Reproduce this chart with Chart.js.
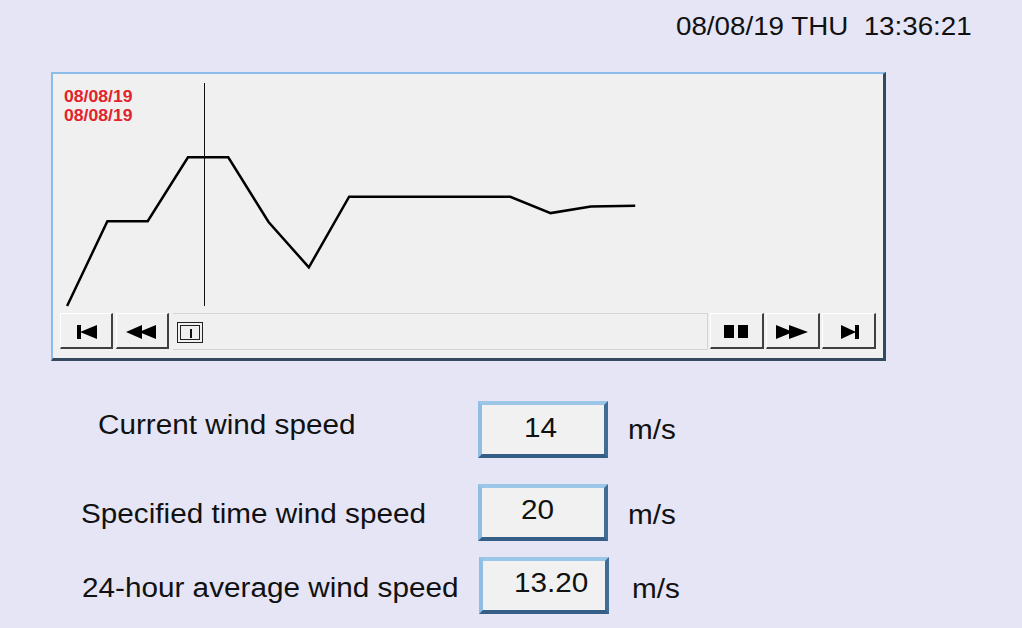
<!DOCTYPE html>
<html>
<head>
<meta charset="utf-8">
<script src="https://cdn.jsdelivr.net/npm/chart.js@4"></script>
<style>
  html,body{margin:0;padding:0;}
  body{width:1022px;height:628px;background:#e5e5f6;position:relative;overflow:hidden;font-family:"Liberation Sans",Arial,sans-serif;color:#111;}
  .t{position:absolute;white-space:nowrap;line-height:1;}
  .t span{display:inline-block;transform:scaleX(1.1);transform-origin:0 0;}
  #panel{position:absolute;left:51px;top:72px;width:830px;height:284px;background:#f0f0f0;
    border-top:2px solid #8cbde8;border-left:2px solid #8cbde8;border-right:3px solid #34495e;border-bottom:3px solid #34495e;}
  #chartWrap{position:absolute;left:53px;top:75px;width:830px;height:238px;}
  .btn{position:absolute;top:313px;height:36px;background:#f0f0f0;border-top:1px solid #fff;border-left:1px solid #fff;
    border-right:2px solid #404040;border-bottom:2px solid #404040;box-sizing:border-box;}
  .btn svg{position:absolute;left:0;top:0;}
  #track{position:absolute;left:173px;top:313px;width:535px;height:37px;background:#f0f0f0;border-top:1px solid #d4d4d4;border-bottom:1px solid #d4d4d4;border-right:1px solid #d4d4d4;box-sizing:border-box;}
  #thumb{position:absolute;left:177px;top:322px;width:26px;height:21px;box-sizing:border-box;border:1px solid #222;background:#f0f0f0;}
  #thumb div{position:absolute;left:2px;top:2px;right:2px;bottom:2px;border:1px solid #222;}
  #thumb div:after{content:"";position:absolute;left:9px;top:3px;width:2px;height:9px;background:#111;}
  .box{position:absolute;width:130px;height:57px;background:#f1f1f1;box-sizing:border-box;
    border-top:4px solid #9cc6e8;border-left:4px solid #8fbde3;border-right:4px solid #3f6d98;border-bottom:4px solid #365f88;}
</style>
</head>
<body>
<div class="t" style="left:676px;top:14px;font-size:25px;"><span style="transform:scaleX(1.11)">08/08/19 THU&nbsp; 13:36:21</span></div>

<div id="panel"></div>
<div class="t" style="left:64px;top:89px;font-size:16px;font-weight:bold;color:#e3232b;"><span>08/08/19</span></div>
<div class="t" style="left:64px;top:108px;font-size:16px;font-weight:bold;color:#e3232b;"><span>08/08/19</span></div>
<div id="chartWrap"><canvas id="c"></canvas></div>

<div class="btn" style="left:60px;width:53px;"><svg width="51" height="33"><rect x="16" y="11" width="4" height="14" fill="#000"/><polygon points="19,18 36,11 36,25" fill="#000"/></svg></div>
<div class="btn" style="left:116px;width:53px;"><svg width="51" height="33"><polygon points="9,18 25,11 25,25" fill="#000"/><polygon points="22,18 39,11 39,25" fill="#000"/></svg></div>
<div id="track"></div>
<div id="thumb"><div></div></div>
<div class="btn" style="left:710px;width:54px;"><svg width="52" height="33"><rect x="13" y="11" width="10" height="13" fill="#000"/><rect x="27" y="11" width="10" height="13" fill="#000"/></svg></div>
<div class="btn" style="left:766px;width:54px;"><svg width="52" height="33"><polygon points="9,11 26,18 9,25" fill="#000"/><polygon points="22,11 41,18 22,25" fill="#000"/></svg></div>
<div class="btn" style="left:822px;width:54px;"><svg width="52" height="33"><polygon points="18,11 33,18 18,25" fill="#000"/><rect x="32" y="11" width="4" height="14" fill="#000"/></svg></div>

<div class="t" style="left:98px;top:412px;font-size:27px;"><span>Current wind speed</span></div>
<div class="t" style="left:81px;top:501px;font-size:27px;"><span>Specified time wind speed</span></div>
<div class="t" style="left:82px;top:575px;font-size:27px;"><span>24-hour average wind speed</span></div>

<div class="box" style="left:478px;top:401px;"></div>
<div class="box" style="left:478px;top:484px;"></div>
<div class="box" style="left:479px;top:557px;"></div>
<div class="t" style="left:524px;top:415px;font-size:27px;"><span>14</span></div>
<div class="t" style="left:521px;top:497px;font-size:27px;"><span>20</span></div>
<div class="t" style="left:514px;top:570px;font-size:27px;"><span>13.20</span></div>
<div class="t" style="left:628px;top:417px;font-size:27px;"><span>m/s</span></div>
<div class="t" style="left:628px;top:502px;font-size:27px;"><span>m/s</span></div>
<div class="t" style="left:632px;top:576px;font-size:27px;"><span>m/s</span></div>

<script>
// Data
const timeIndex = [0,1,2,3,4,5,6,7,8,9,10,11,12,13,14.1];
const windSpeed = [0,11.4,11.4,20,20,11.3,5.2,14.7,14.7,14.7,14.7,14.7,12.5,13.4,13.5];
const cursorPosition = 3.4;
const xRange = [-0.35, 20.25];
const yRange = [-0.94, 31.08];
const cursorSpan = [0, 30];

const cursorPlugin = {
  id: 'cursorLine',
  afterDatasetsDraw(chart){
    const {ctx, scales:{x,y}} = chart;
    const px = Math.round(x.getPixelForValue(cursorPosition)) + 0.5;
    ctx.save();
    ctx.strokeStyle = '#111';
    ctx.lineWidth = 1;
    ctx.beginPath();
    ctx.moveTo(px, y.getPixelForValue(cursorSpan[1]));
    ctx.lineTo(px, y.getPixelForValue(cursorSpan[0]));
    ctx.stroke();
    ctx.restore();
  }
};

new Chart(document.getElementById('c'), {
  type: 'line',
  data: {
    datasets: [{
      data: timeIndex.map((t,i)=>({x:t, y:windSpeed[i]})),
      borderColor: '#000',
      borderWidth: 2.5,
      pointRadius: 0,
      tension: 0,
      fill: false,
      clip: false
    }]
  },
  options: {
    responsive: true,
    maintainAspectRatio: false,
    animation: false,
    layout: {padding: 0},
    plugins: {legend:{display:false}, tooltip:{enabled:false}},
    scales: {
      x: {type:'linear', min:xRange[0], max:xRange[1], display:false},
      y: {type:'linear', min:yRange[0], max:yRange[1], display:false}
    }
  },
  plugins: [cursorPlugin]
});
</script>
</body>
</html>
